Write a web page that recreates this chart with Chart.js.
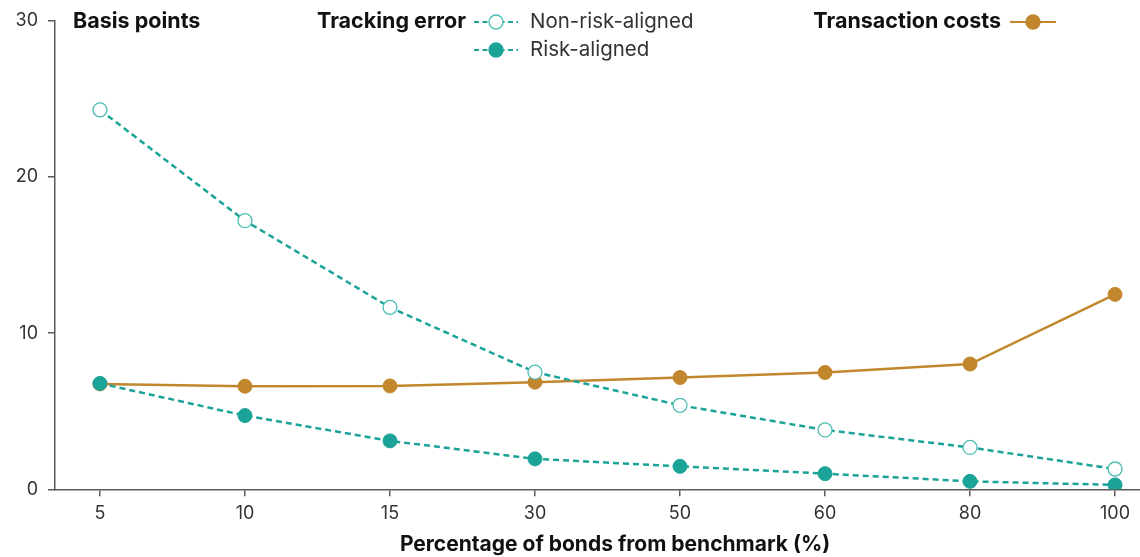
<!DOCTYPE html>
<html>
<head>
<meta charset="utf-8">
<script src="https://cdn.jsdelivr.net/npm/chart.js@4.4.1/dist/chart.umd.min.js"></script>
<style>
  html, body { margin: 0; padding: 0; background: #ffffff; }
  #wrap { width: 1140px; height: 557px; position: relative; }
</style>
</head>
<body>
<div id="wrap"><canvas id="c"></canvas></div>
<script>
// ---- Data ----
const categories = ['5', '10', '15', '30', '50', '60', '80', '100'];
const nonRiskAligned = [24.3, 17.2, 11.65, 7.5, 5.38, 3.8, 2.68, 1.3];
const riskAligned = [6.78, 4.72, 3.1, 1.95, 1.47, 1.0, 0.51, 0.28];
const transactionCosts = [6.75, 6.6, 6.62, 6.86, 7.16, 7.48, 8.02, 12.48];
const yTicks = [0, 10, 20, 30];
const yAxisTitle = 'Basis points';
const xAxisTitle = 'Percentage of bonds from benchmark (%)';
const legendGroupTitle = 'Tracking error';
const seriesLabels = ['Risk-aligned', 'Non-risk-aligned', 'Transaction costs'];

// ---- Styles ----
const TEAL = '#1ba398';
const TEAL_LIGHT = '#4cbdb4';
const GOLD = '#c2862d';
const AXIS = '#5a5a5a';
const FONT = 'Inter, "Liberation Sans", sans-serif';

const toXY = arr => arr.map((v, i) => ({ x: i, y: v }));

const legendPlugin = {
  id: 'customLegend',
  afterDraw(chart) {
    const ctx = chart.ctx;
    ctx.save();
    ctx.textBaseline = 'middle';
    ctx.fillStyle = '#111';
    ctx.font = 'bold 21.5px ' + FONT;
    ctx.textAlign = 'left';
    ctx.fillText(yAxisTitle, 73, 22);
    ctx.textAlign = 'right';
    ctx.fillText(legendGroupTitle, 466, 22);

    const marker = (x1, x2, y, color, dashed, fill, stroke) => {
      ctx.save();
      ctx.strokeStyle = color;
      ctx.lineWidth = 2.2;
      ctx.setLineDash(dashed ? [5, 3.5] : []);
      ctx.beginPath(); ctx.moveTo(x1, y); ctx.lineTo(x2, y); ctx.stroke();
      ctx.setLineDash([]);
      ctx.beginPath();
      ctx.arc((x1 + x2) / 2, y, 7, 0, Math.PI * 2);
      ctx.fillStyle = fill; ctx.fill();
      ctx.lineWidth = 1.3; ctx.strokeStyle = stroke; ctx.stroke();
      ctx.restore();
    };
    marker(474, 518, 22, TEAL, true, '#ffffff', TEAL_LIGHT);
    marker(474, 518, 50, TEAL, true, TEAL, TEAL);

    ctx.font = '20.5px ' + FONT;
    ctx.fillStyle = '#333';
    ctx.textAlign = 'left';
    ctx.fillText(seriesLabels[1], 530, 22);
    ctx.fillText(seriesLabels[0], 530, 50);

    ctx.font = 'bold 21.5px ' + FONT;
    ctx.fillStyle = '#111';
    ctx.textAlign = 'right';
    ctx.fillText(seriesLabels[2], 1001, 22);
    marker(1010, 1056, 22, GOLD, false, GOLD, GOLD);

    ctx.font = 'bold 21px ' + FONT;
    ctx.textAlign = 'center';
    ctx.fillStyle = '#111';
    ctx.fillText(xAxisTitle, 615, 545);
    ctx.restore();
  }
};

new Chart(document.getElementById('c'), {
  type: 'line',
  data: {
    datasets: [
      {
        label: seriesLabels[0],
        data: toXY(riskAligned),
        borderColor: TEAL,
        borderWidth: 2.5,
        borderDash: [6, 4],
        pointRadius: 7,
        pointBackgroundColor: TEAL,
        pointBorderColor: TEAL,
        pointBorderWidth: 1,
        tension: 0
      },
      {
        label: seriesLabels[1],
        data: toXY(nonRiskAligned),
        borderColor: TEAL,
        borderWidth: 2.5,
        borderDash: [6, 4],
        pointRadius: 7,
        pointBackgroundColor: '#ffffff',
        pointBorderColor: TEAL_LIGHT,
        pointBorderWidth: 1.3,
        tension: 0
      },
      {
        label: seriesLabels[2],
        data: toXY(transactionCosts),
        borderColor: GOLD,
        borderWidth: 2.5,
        pointRadius: 7,
        pointBackgroundColor: GOLD,
        pointBorderColor: GOLD,
        pointBorderWidth: 1,
        tension: 0
      }
    ]
  },
  options: {
    responsive: true,
    maintainAspectRatio: false,
    animation: false,
    layout: { autoPadding: false, padding: { top: 19.3, right: 0, left: 0, bottom: 0 } },
    plugins: { legend: { display: false }, tooltip: { enabled: false } },
    scales: {
      x: {
        type: 'linear',
        min: -0.31,
        max: 7.172,
        afterBuildTicks: s => { s.ticks = categories.map((_, i) => ({ value: i })); },
        afterFit: s => { s.height = 67.7; },
        ticks: {
          callback: v => categories[v],
          color: '#333',
          font: { family: FONT, size: 18 },
          padding: 6,
          maxRotation: 0,
          autoSkip: false
        },
        grid: { drawOnChartArea: false, drawTicks: true, tickLength: 7, color: AXIS, lineWidth: 1.5 },
        border: { display: true, color: AXIS, width: 1.5 }
      },
      y: {
        min: 0,
        max: 30,
        afterBuildTicks: s => { s.ticks = yTicks.map(v => ({ value: v })); },
        afterFit: s => { s.width = 55; },
        ticks: {
          color: '#333',
          font: { family: FONT, size: 18 },
          padding: 10
        },
        grid: { drawOnChartArea: false, drawTicks: true, tickLength: 7, color: AXIS, lineWidth: 1.5 },
        border: { display: true, color: AXIS, width: 1.5 }
      }
    }
  },
  plugins: [legendPlugin]
});
</script>
</body>
</html>
